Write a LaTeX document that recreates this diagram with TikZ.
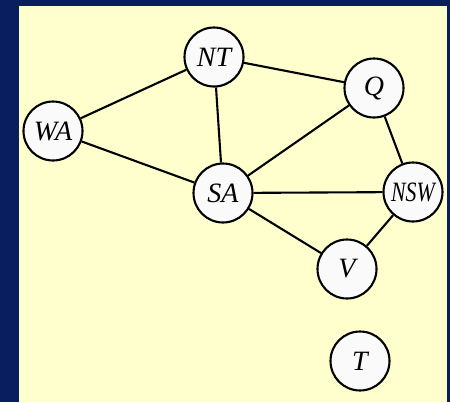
\documentclass[tikz,border=0pt]{standalone}
\usepackage{fontspec}
\setmainfont{Liberation Serif}
\definecolor{navy}{RGB}{8,30,94}
\definecolor{paper}{RGB}{255,255,206}
\definecolor{nodefill}{RGB}{250,250,250}
\begin{document}
\begin{tikzpicture}[x=1pt,y=-1pt,
  region/.style={circle,draw=black,line width=2.1pt,fill=nodefill,
    minimum size=59pt,inner sep=0pt,
    font=\fontsize{28}{30}\selectfont\itshape},
  border/.style={draw=black,line width=2.1pt}]
  % page background and the pale panel
  \fill[navy] (0,0) rectangle (450,402);
  \useasboundingbox (0,0) rectangle (450,402);
  \fill[paper] (19,6) rectangle (447,402);
  % regions
  \node[region] (NT)  at (214,57)  {NT};
  \node[region] (Q)   at (374,88)  {Q};
  \node[region] (WA)  at (53,131)  {WA};
  \node[region] (SA)  at (223,193) {SA};
  \node[region] (NSW) at (413,192) {\scalebox{0.78}[1]{NSW}};
  \node[region] (V)   at (347,269) {V};
  \node[region] (T)   at (360,361) {T};
  % adjacency
  \draw[border] (WA) -- (NT);
  \draw[border] (WA) -- (SA);
  \draw[border] (NT) -- (SA);
  \draw[border] (NT) -- (Q);
  \draw[border] (SA) -- (Q);
  \draw[border] (SA) -- (NSW);
  \draw[border] (SA) -- (V);
  \draw[border] (Q) -- (NSW);
  \draw[border] (NSW) -- (V);
\end{tikzpicture}
\end{document}
